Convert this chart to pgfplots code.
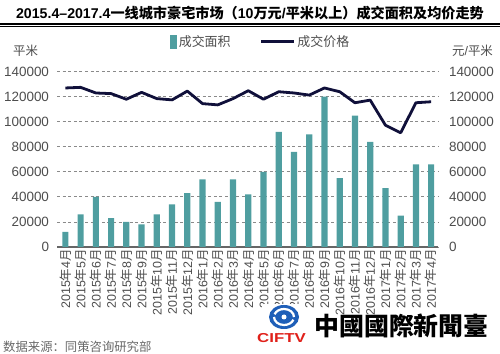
\documentclass[border=0pt]{standalone}
\usepackage{pgfplots}
\pgfplotsset{compat=1.18}
\usepackage{fontspec}
\setmainfont{Liberation Sans}
\newfontfamily\cjk{Noto Sans CJK SC}
\newfontfamily\cjktc{Noto Sans CJK TC}
\definecolor{barc}{HTML}{4F9EA0}
\definecolor{navy}{HTML}{10103A}
\definecolor{txtg}{HTML}{4D4D4D}
\definecolor{gridg}{HTML}{8A8A8A}
\definecolor{axg}{HTML}{666666}
\definecolor{logoblue}{HTML}{1F5FB8}
\definecolor{logored}{HTML}{E0201A}
\newcommand\ym[2]{#1{\cjk 年}#2{\cjk 月}}
\begin{document}
\begin{tikzpicture}
\useasboundingbox (0,0) rectangle (500bp,354bp);
% title
\node[font=\fontsize{14.2}{17}\selectfont\bfseries, text=black] at (250bp,341bp)
 {2015.4–2017.4{\cjk 一线城市豪宅市场（}10{\cjk 万元}/{\cjk 平米以上）成交面积及均价走势}};
\fill[black] (0,329bp) rectangle (500bp,331.3bp);
\draw[black, line width=0.7bp] (0,327.8bp) -- (500bp,327.8bp);
% unit labels
\node[font=\cjk\fontsize{12.5}{15}\selectfont, text=txtg] at (25.5bp,303bp) {平米};
\node[font=\fontsize{12.5}{15}\selectfont, text=txtg] at (472.5bp,303bp) {{\cjk 元}/{\cjk 平米}};

\begin{axis}[
  at={(57bp,107bp)}, anchor=south west, scale only axis,
  width=381bp, height=175.3bp,
  xmin=-0.55, xmax=24.45, ymin=0, ymax=140000,
  axis x line*=bottom, axis y line*=left,
  x axis line style={draw=axg, line width=1.6bp},
  y axis line style={draw=none},
  major tick length=0,
  xtick={0,...,24},
  xticklabels={\ym{2015}{4},\ym{2015}{5},\ym{2015}{6},\ym{2015}{7},\ym{2015}{8},\ym{2015}{9},\ym{2015}{10},\ym{2015}{11},\ym{2015}{12},\ym{2016}{1},\ym{2016}{2},\ym{2016}{3},\ym{2016}{4},\ym{2016}{5},\ym{2016}{6},\ym{2016}{7},\ym{2016}{8},\ym{2016}{9},\ym{2016}{10},\ym{2016}{11},\ym{2016}{12},\ym{2017}{1},\ym{2017}{2},\ym{2017}{3},\ym{2017}{4}},
  xticklabel style={rotate=90, anchor=east, font=\fontsize{12.5}{14}\selectfont, text=txtg, inner sep=2bp},
  ytick={0,20000,...,140000},
  scaled y ticks=false,
  yticklabel={\pgfmathprintnumber[fixed,precision=0,assume math mode=true,1000 sep={}]{\tick}},
  yticklabel style={font=\fontsize{13.5}{16}\selectfont, text=txtg, xshift=-4.5bp},
  ymajorgrids,
  major grid style={draw=gridg, line width=0.9bp, dash pattern=on 3bp off 2.6bp},
  ybar, bar width=6.2bp,
]
\addplot[fill=barc, draw=none, bar shift=0pt] coordinates {
(0,12000) (1,26000) (2,40000) (3,23000) (4,20000) (5,18000) (6,26000) (7,34000) (8,43000) (9,54000) (10,36000) (11,54000) (12,42000) (13,60000) (14,92000) (15,76000) (16,90000) (17,120000) (18,55000) (19,105000) (20,84000) (21,47000) (22,25000) (23,66000) (24,66000)};
\end{axis}

\begin{axis}[
  at={(57bp,107bp)}, anchor=south west, scale only axis,
  width=381bp, height=175.3bp,
  xmin=-0.55, xmax=24.45, ymin=0, ymax=140000,
  axis x line=none, xtick=\empty,
  axis y line*=right,
  y axis line style={draw=none},
  major tick length=0,
  ytick={0,20000,...,140000},
  scaled y ticks=false,
  yticklabel={\pgfmathprintnumber[fixed,precision=0,assume math mode=true,1000 sep={}]{\tick}},
  yticklabel style={font=\fontsize{13.5}{16}\selectfont, text=txtg, xshift=7.5bp},
  legend style={draw=none, fill=none, at={(0.535,1.17)}, anchor=center,
    font=\cjk\fontsize{13}{15}\selectfont, text=txtg, inner sep=0pt,
    /tikz/every even column/.append style={column sep=27bp}},
  legend columns=2,
]
\addlegendimage{legend image code/.code={\fill[barc] (0bp,-6.5bp) rectangle (6bp,6.5bp);}}
\addlegendentry{成交面积}
\addplot[navy, line width=2.8bp, line join=round, mark=none,
  legend image code/.code={\draw[navy, line width=2.8bp] (-16bp,0) -- (17bp,0);}] coordinates {
(0,127000) (1,127500) (2,123000) (3,122500) (4,118000) (5,123500) (6,118500) (7,117500) (8,124500) (9,114500) (10,113500) (11,118500) (12,124800) (13,118000) (14,124000) (15,123000) (16,121300) (17,127000) (18,124000) (19,115200) (20,117300) (21,97300) (22,91200) (23,115200) (24,116000)};
\addlegendentry{成交价格}
\end{axis}

% source
\node[anchor=west, font=\cjk\fontsize{12.4}{14}\selectfont, text=txtg!85!white, inner sep=0pt] at (3bp,7bp) {数据来源：同策咨询研究部};
% logo
\fill[white] (264bp,8bp) rectangle (304bp,50bp);
\fill[logoblue] (284bp,37bp) ellipse (15bp and 12bp);
\draw[white, line width=2.2bp] (284bp,37bp) ++(10bp,0) arc (0:160:10bp and 8bp);
\draw[white, line width=2.2bp] (284bp,37bp) ++(-10bp,0) arc (180:340:10bp and 8bp);
\fill[white] (284bp,37bp) circle (2.5bp);
\node[font=\fontsize{13}{15}\selectfont\bfseries, text=logored, xscale=1.3] at (281.5bp,16bp) {CIFTV};
\node[font=\cjktc\fontsize{25}{28}\selectfont\bfseries, text=black] at (401.5bp,28bp) {中國國際新聞臺};
\end{tikzpicture}
\end{document}
